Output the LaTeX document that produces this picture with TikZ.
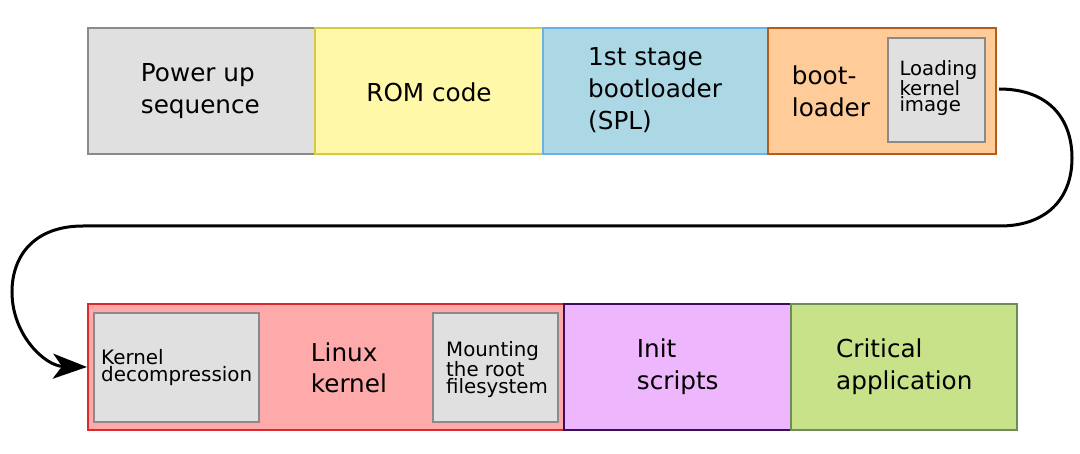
\documentclass[tikz,border=0pt]{standalone}
\usepackage{fontspec}
\setmainfont{DejaVu Sans}
\usetikzlibrary{arrows.meta}
\definecolor{grayF}{RGB}{224,224,224}
\definecolor{grayS}{RGB}{138,138,138}
\definecolor{yelF}{RGB}{255,248,168}
\definecolor{yelS}{RGB}{214,202,64}
\definecolor{bluF}{RGB}{172,216,230}
\definecolor{bluS}{RGB}{108,176,232}
\definecolor{oraF}{RGB}{255,204,153}
\definecolor{oraS}{RGB}{178,94,24}
\definecolor{redF}{RGB}{255,170,170}
\definecolor{redS}{RGB}{220,42,42}
\definecolor{purF}{RGB}{238,182,252}
\definecolor{purS}{RGB}{60,14,92}
\definecolor{grnF}{RGB}{200,226,138}
\definecolor{grnS}{RGB}{110,140,86}
\tikzset{
  stagebox/.style={draw=#1S, fill=#1F, line width=2pt, inner sep=0pt, minimum height=126pt},
  innerbox/.style={draw=grayS, fill=grayF, line width=2.5pt, inner sep=0pt},
  bigtxt/.style={inner sep=0pt, align=left, font=\fontsize{24.7}{32}\selectfont, anchor=base west},
  smalltxt/.style={inner sep=0pt, align=left, font=\fontsize{19.7}{16.5}\selectfont, anchor=base west},
  flow/.style={line width=3pt, -{Stealth[length=34pt, width=25pt, inset=9pt]}}
}
\begin{document}
\begin{tikzpicture}[x=1pt,y=-1pt]
\useasboundingbox (0,0) rectangle (1080,454);
% top row
\node[stagebox=gray, minimum width=227pt] (pw) at (201.5,91) {};
\node[stagebox=yel, minimum width=228pt] (rom) at (429,91) {};
\node[stagebox=blu, minimum width=225pt] (spl) at (655.5,91) {};
\node[stagebox=ora, minimum width=228pt] (bl) at (882,91) {};
\node[innerbox, minimum width=97pt, minimum height=104pt] (lki) at (936.5,90) {};
% bottom row
\node[stagebox=red, minimum width=476pt] (lk) at (326,367) {};
\node[stagebox=pur, minimum width=227pt] (init) at (677.5,367) {};
\node[stagebox=grn, minimum width=226pt] (app) at (904,367) {};
\node[innerbox, minimum width=165pt, minimum height=109pt] (kd) at (176.5,367.5) {};
\node[innerbox, minimum width=125pt, minimum height=109pt] (mr) at (495.5,367.5) {};
% texts (anchored at the baseline of the last line)
\node[bigtxt] (tpw) at (140.7,113.5) {Power up\\sequence};
\node[bigtxt, anchor=base] (trom) at (429,102) {ROM code};
\node[bigtxt] (tspl) at (588,129.5) {1st stage\\bootloader\\(SPL)};
\node[bigtxt] (tbl) at (791.7,116.5) {boot-\\loader};
\node[smalltxt] (tlki) at (899.3,112) {Loading\\kernel\\image};
\node[smalltxt, font=\fontsize{19.9}{17}\selectfont] (tkd) at (101,382) {Kernel\\decompression};
\node[bigtxt] (tlk) at (310.7,393) {Linux\\kernel};
\node[smalltxt, font=\fontsize{19.8}{17}\selectfont] (tmr) at (446,394) {Mounting\\the root\\filesystem};
\node[bigtxt] (tinit) at (636.7,390) {Init\\scripts};
\node[bigtxt] (tapp) at (836,390) {Critical\\application};
% connector
\draw[flow] ([xshift=2pt,yshift=2pt]bl.east) .. controls (1050,89) and (1072,120) .. (1072,158)
  .. controls (1072,200) and (1045,226) .. (1000,226) -- (83,226)
  .. controls (35,226) and (12,255) .. (12,292)
  .. controls (12,335) and (45,366) .. (lk.west);
\end{tikzpicture}
\end{document}
